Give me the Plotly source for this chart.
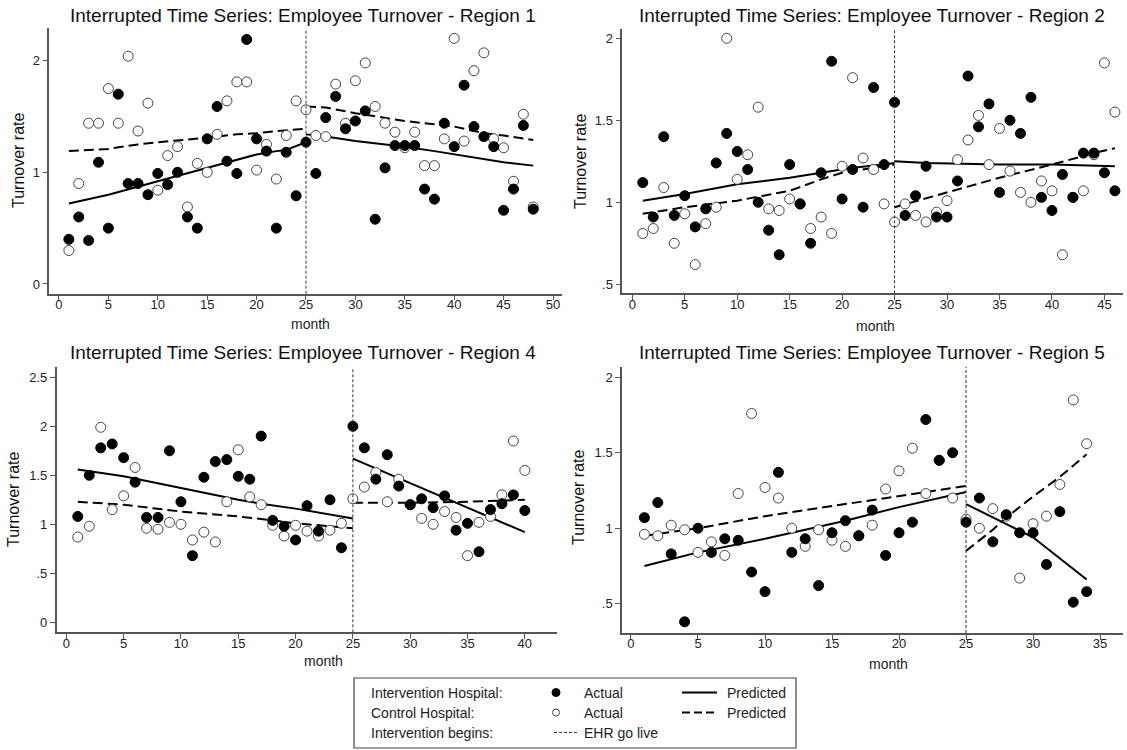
import plotly.graph_objects as go

W, H = 1127, 750
FONT = "Liberation Sans, Arial, sans-serif"
INTERVENTION_MONTH = 25

# ---------------- Region 1 ----------------
r1_int = [0.40, 0.60, 0.39, 1.09, 0.50, 1.70, 0.90, 0.90, 0.80, 0.99,
          0.89, 1.00, 0.60, 0.50, 1.30, 1.59, 1.10, 0.99, 2.19, 1.30,
          1.19, 0.50, 1.18, 0.79, 1.27, 0.99, 1.49, 1.68, 1.39, 1.46,
          1.55, 0.58, 1.04, 1.24, 1.24, 1.24, 0.85, 0.76, 1.44, 1.23,
          1.78, 1.41, 1.32, 1.23, 0.66, 0.85, 1.42, 0.67]
r1_ctl = [0.30, 0.90, 1.44, 1.44, 1.75, 1.44, 2.04, 1.37, 1.62, 0.84,
          1.15, 1.23, 0.69, 1.08, 1.00, 1.34, 1.64, 1.81, 1.81, 1.02,
          1.25, 0.94, 1.33, 1.64, 1.56, 1.33, 1.32, 1.79, 1.44, 1.82,
          1.98, 1.59, 1.44, 1.36, 1.22, 1.36, 1.06, 1.06, 1.30, 2.20,
          1.28, 1.91, 2.07, 1.30, 1.22, 0.92, 1.52, 0.69]
r1_int_pre_m = [1, 5, 10, 15, 17, 20, 22, 23, 25]
r1_int_pre_v = [0.72, 0.80, 0.92, 1.04, 1.09, 1.16, 1.19, 1.20, 1.27]
r1_int_post_m = [25, 27, 30, 35, 38, 40, 43, 45, 48]
r1_int_post_v = [1.34, 1.32, 1.28, 1.23, 1.19, 1.16, 1.12, 1.09, 1.06]
r1_ctl_pre_m = [1, 5, 8, 10, 15, 18, 20, 22, 25]
r1_ctl_pre_v = [1.19, 1.21, 1.25, 1.27, 1.31, 1.34, 1.35, 1.37, 1.39]
r1_ctl_post_m = [25, 27, 30, 33, 35, 38, 40, 43, 45, 48]
r1_ctl_post_v = [1.59, 1.58, 1.53, 1.49, 1.46, 1.43, 1.41, 1.35, 1.33, 1.29]

# ---------------- Region 2 ----------------
r2_int = [1.12, 0.91, 1.40, 0.92, 1.04, 0.85, 0.96, 1.24, 1.42, 1.31,
          1.20, 1.00, 0.83, 0.68, 1.23, 0.99, 0.75, 1.18, 1.86, 1.02,
          1.20, 0.97, 1.70, 1.23, 1.61, 0.92, 1.04, 1.22, 0.91, 0.91,
          1.13, 1.77, 1.46, 1.60, 1.06, 1.50, 1.42, 1.64, 1.03, 0.95,
          1.17, 1.03, 1.30, 1.30, 1.18, 1.07]
r2_ctl = [0.81, 0.84, 1.09, 0.75, 0.93, 0.62, 0.87, 0.97, 2.00, 1.14,
          1.29, 1.58, 0.96, 0.95, 1.02, 0.99, 0.84, 0.91, 0.81, 1.22,
          1.76, 1.27, 1.20, 0.99, 0.88, 0.99, 0.92, 0.88, 0.94, 1.01,
          1.26, 1.38, 1.53, 1.23, 1.45, 1.19, 1.06, 1.00, 1.13, 1.07,
          0.68, 1.03, 1.07, 1.29, 1.85, 1.55]
r2_int_pre_m = [1, 5, 10, 15, 18, 20, 21, 24, 25]
r2_int_pre_v = [1.01, 1.05, 1.11, 1.15, 1.18, 1.20, 1.21, 1.23, 1.24]
r2_int_post_m = [25, 28, 35, 40, 46]
r2_int_post_v = [1.25, 1.24, 1.23, 1.23, 1.22]
r2_ctl_pre_m = [1, 5, 10, 15, 18, 20, 21, 24, 25]
r2_ctl_pre_v = [0.93, 0.97, 1.01, 1.07, 1.14, 1.18, 1.19, 1.22, 1.23]
r2_ctl_post_m = [25, 30, 35, 40, 44, 46]
r2_ctl_post_v = [0.97, 1.06, 1.15, 1.23, 1.30, 1.33]

# ---------------- Region 4 ----------------
r4_int = [1.08, 1.50, 1.78, 1.82, 1.68, 1.43, 1.07, 1.07, 1.75, 1.23,
          0.68, 1.48, 1.64, 1.66, 1.49, 1.46, 1.90, 1.04, 0.98, 0.84,
          1.19, 0.93, 1.25, 0.76, 2.00, 1.78, 1.46, 1.71, 1.39, 1.20,
          1.26, 1.17, 1.29, 0.94, 1.01, 0.72, 1.15, 1.21, 1.30, 1.14]
r4_ctl = [0.87, 0.98, 1.99, 1.15, 1.29, 1.58, 0.96, 0.95, 1.02, 1.00,
          0.84, 0.92, 0.82, 1.23, 1.76, 1.28, 1.20, 0.99, 0.88, 0.99,
          0.93, 0.88, 0.94, 1.01, 1.26, 1.38, 1.53, 1.23, 1.46, 1.20,
          1.06, 1.00, 1.13, 1.07, 0.68, 1.02, 1.08, 1.30, 1.85, 1.55]
r4_int_pre_m = [1, 5, 10, 15, 17, 20, 25]
r4_int_pre_v = [1.56, 1.49, 1.37, 1.25, 1.21, 1.16, 1.06]
r4_int_post_m = [25, 30, 35, 40]
r4_int_post_v = [1.67, 1.42, 1.17, 0.92]
r4_ctl_pre_m = [1, 5, 10, 15, 18, 20, 25]
r4_ctl_pre_v = [1.23, 1.20, 1.13, 1.08, 1.04, 1.01, 0.96]
r4_ctl_post_m = [25, 30, 35, 40]
r4_ctl_post_v = [1.22, 1.22, 1.23, 1.25]

# ---------------- Region 5 ----------------
r5_int = [1.07, 1.17, 0.83, 0.38, 1.00, 0.84, 0.93, 0.92, 0.71, 0.58,
          1.37, 0.84, 0.93, 0.62, 0.97, 1.05, 0.95, 1.12, 0.82, 0.97,
          1.04, 1.72, 1.45, 1.50, 1.04, 1.20, 0.91, 1.09, 0.97, 0.97,
          0.76, 1.11, 0.51, 0.58]
r5_ctl = [0.96, 0.95, 1.02, 0.99, 0.84, 0.91, 0.82, 1.23, 1.76, 1.27,
          1.20, 1.00, 0.88, 0.99, 0.92, 0.88, 0.95, 1.02, 1.26, 1.38,
          1.53, 1.23, 1.45, 1.20, 1.06, 1.00, 1.13, 1.08, 0.67, 1.03,
          1.08, 1.29, 1.85, 1.56]
r5_int_pre_m = [1, 5, 10, 16, 20, 22, 25]
r5_int_pre_v = [0.75, 0.84, 0.93, 1.05, 1.14, 1.18, 1.24]
r5_int_post_m = [25, 30, 34]
r5_int_post_v = [1.16, 0.94, 0.66]
r5_ctl_pre_m = [1, 5, 10, 16, 20, 25]
r5_ctl_pre_v = [0.95, 1.00, 1.08, 1.16, 1.21, 1.28]
r5_ctl_post_m = [25, 27, 28, 30, 32, 34]
r5_ctl_post_v = [0.85, 0.99, 1.07, 1.21, 1.34, 1.49]

titles = ["Interrupted Time Series: Employee Turnover - Region 1",
          "Interrupted Time Series: Employee Turnover - Region 2",
          "Interrupted Time Series: Employee Turnover - Region 4",
          "Interrupted Time Series: Employee Turnover - Region 5"]

y_ticks = [[0, 1, 2], [0.5, 1, 1.5, 2], [0, 0.5, 1, 1.5, 2, 2.5], [0.5, 1, 1.5, 2]]
y_ticktext = [["0", "1", "2"], [".5", "1", "1.5", "2"],
              ["0", ".5", "1", "1.5", "2", "2.5"], [".5", "1", "1.5", "2"]]
x_ticks = [list(range(0, 51, 5)), list(range(0, 46, 5)),
           list(range(0, 41, 5)), list(range(0, 36, 5))]

panels = [
    dict(i=r1_int, c=r1_ctl,
         lines=[(r1_int_pre_m, r1_int_pre_v, "solid"), (r1_int_post_m, r1_int_post_v, "solid"),
                (r1_ctl_pre_m, r1_ctl_pre_v, "dash"), (r1_ctl_post_m, r1_ctl_post_v, "dash")]),
    dict(i=r2_int, c=r2_ctl,
         lines=[(r2_int_pre_m, r2_int_pre_v, "solid"), (r2_int_post_m, r2_int_post_v, "solid"),
                (r2_ctl_pre_m, r2_ctl_pre_v, "dash"), (r2_ctl_post_m, r2_ctl_post_v, "dash")]),
    dict(i=r4_int, c=r4_ctl,
         lines=[(r4_int_pre_m, r4_int_pre_v, "solid"), (r4_int_post_m, r4_int_post_v, "solid"),
                (r4_ctl_pre_m, r4_ctl_pre_v, "dash"), (r4_ctl_post_m, r4_ctl_post_v, "dash")]),
    dict(i=r5_int, c=r5_ctl,
         lines=[(r5_int_pre_m, r5_int_pre_v, "solid"), (r5_int_post_m, r5_int_post_v, "solid"),
                (r5_ctl_pre_m, r5_ctl_pre_v, "dash"), (r5_ctl_post_m, r5_ctl_post_v, "dash")]),
]

# layout geometry (pixels): plot-region left, right, top, bottom, x range, y range
geo = [
    dict(l=49.3, r=561.7, t=28.3, b=293.7, xr=[-0.98, 50.88], yr=[-0.087, 2.29]),
    dict(l=622.3, r=1123.3, t=29.3, b=293.3, xr=[-0.95, 46.8], yr=[0.445, 2.055]),
    dict(l=56.7, r=556.7, t=367.3, b=632.3, xr=[-0.84, 42.78], yr=[-0.102, 2.602]),
    dict(l=622.0, r=1122.7, t=366.7, b=633.0, xr=[-0.67, 36.69], yr=[0.306, 2.07]),
]

fig = go.Figure()
layout = dict(width=W, height=H, margin=dict(l=0, r=0, t=0, b=0),
              paper_bgcolor="white", plot_bgcolor="white", showlegend=False,
              font=dict(family=FONT, color="#222"))
shapes, annotations = [], []


def px(x):
    return x / W


def py(y):
    return 1 - y / H


for k, (p, g) in enumerate(zip(panels, geo)):
    n = k + 1
    xa = "x" if n == 1 else f"x{n}"
    ya = "y" if n == 1 else f"y{n}"
    months = list(range(1, len(p["i"]) + 1))
    for mm, vv, dsh in p["lines"]:
        fig.add_trace(go.Scatter(x=mm, y=vv, mode="lines", xaxis=xa, yaxis=ya,
                                 line=dict(color="black", width=2,
                                           dash="solid" if dsh == "solid" else "10px,5px")))
    fig.add_trace(go.Scatter(x=months, y=p["c"], mode="markers", xaxis=xa, yaxis=ya,
                             marker=dict(size=10, color="white",
                                         line=dict(color="#444", width=1))))
    fig.add_trace(go.Scatter(x=months, y=p["i"], mode="markers", xaxis=xa, yaxis=ya,
                             marker=dict(size=10, color="black",
                                         line=dict(color="black", width=1))))
    axcommon = dict(showgrid=False, zeroline=False, showline=True, linecolor="#555",
                    linewidth=1.5, ticks="outside", ticklen=5, tickcolor="#555",
                    tickwidth=1, tickfont=dict(size=13, color="#222", family=FONT))
    layout["xaxis" if n == 1 else f"xaxis{n}"] = dict(
        domain=[px(g["l"]), px(g["r"])], range=g["xr"], anchor=ya,
        tickvals=x_ticks[k], ticktext=[str(v) for v in x_ticks[k]],
        ticklabelstandoff=-7, **axcommon)
    layout["yaxis" if n == 1 else f"yaxis{n}"] = dict(
        domain=[py(g["b"]), py(g["t"])], range=g["yr"], anchor=xa,
        tickvals=y_ticks[k], ticktext=y_ticktext[k], **axcommon)
    # intervention line
    shapes.append(dict(type="line", xref=xa, yref=f"{ya} domain",
                       x0=INTERVENTION_MONTH, x1=INTERVENTION_MONTH, y0=0, y1=1,
                       line=dict(color="#333", width=1, dash="3px,2px")))

# titles and axis labels (pixel positions)
title_pos = [(302.5, 15), (871.5, 15), (302.5, 352), (871.5, 352)]
ytitle_pos = [(18, 160), (580, 161), (13, 499), (579, 497)]
xtitle_pos = [(310, 324), (875, 326), (323, 661), (888, 664)]
for k in range(4):
    annotations.append(dict(text=titles[k], x=px(title_pos[k][0]), y=py(title_pos[k][1]),
                            xref="paper", yref="paper", showarrow=False,
                            xanchor="center", yanchor="middle",
                            font=dict(size=19, color="#111", family=FONT)))
    annotations.append(dict(text="Turnover rate", x=px(ytitle_pos[k][0]), y=py(ytitle_pos[k][1]),
                            xref="paper", yref="paper", showarrow=False, textangle=-90,
                            xanchor="center", yanchor="middle",
                            font=dict(size=16, color="#111", family=FONT)))
    annotations.append(dict(text="month", x=px(xtitle_pos[k][0]), y=py(xtitle_pos[k][1]),
                            xref="paper", yref="paper", showarrow=False,
                            xanchor="center", yanchor="middle",
                            font=dict(size=14, color="#222", family=FONT)))

# legend box
shapes.append(dict(type="rect", xref="paper", yref="paper",
                   x0=px(354), x1=px(796), y0=py(748), y1=py(678),
                   line=dict(color="#444", width=1.2), fillcolor="white", layer="below"))
rows = [692.5, 712.5, 732.5]
leg_labels = ["Intervention Hospital:", "Control Hospital:", "Intervention begins:"]
for lbl, yy in zip(leg_labels, rows):
    annotations.append(dict(text=lbl, x=px(369), y=py(yy), xref="paper", yref="paper",
                            showarrow=False, xanchor="left", yanchor="middle",
                            font=dict(size=14, color="#222", family=FONT)))
for lbl, xx, yy in [("Actual", 582, rows[0]), ("Actual", 582, rows[1]),
                    ("EHR go live", 582, rows[2]), ("Predicted", 725, rows[0]),
                    ("Predicted", 725, rows[1])]:
    annotations.append(dict(text=lbl, x=px(xx), y=py(yy), xref="paper", yref="paper",
                            showarrow=False, xanchor="left", yanchor="middle",
                            font=dict(size=14, color="#222", family=FONT)))
# legend symbols
shapes.append(dict(type="circle", xref="paper", yref="paper",
                   x0=px(552), x1=px(560), y0=py(696.5), y1=py(688.5),
                   fillcolor="black", line=dict(color="black", width=1)))
shapes.append(dict(type="circle", xref="paper", yref="paper",
                   x0=px(552.5), x1=px(559.5), y0=py(716), y1=py(709),
                   fillcolor="white", line=dict(color="#444", width=1)))
shapes.append(dict(type="line", xref="paper", yref="paper",
                   x0=px(682), x1=px(717), y0=py(rows[0]), y1=py(rows[0]),
                   line=dict(color="black", width=2)))
shapes.append(dict(type="line", xref="paper", yref="paper",
                   x0=px(682), x1=px(717), y0=py(rows[1]), y1=py(rows[1]),
                   line=dict(color="black", width=2, dash="8px,4px")))
shapes.append(dict(type="line", xref="paper", yref="paper",
                   x0=px(554), x1=px(577), y0=py(rows[2]), y1=py(rows[2]),
                   line=dict(color="#333", width=1, dash="3px,2px")))

layout["shapes"] = shapes
layout["annotations"] = annotations
fig.update_layout(**layout)
fig.write_html("out.html")
